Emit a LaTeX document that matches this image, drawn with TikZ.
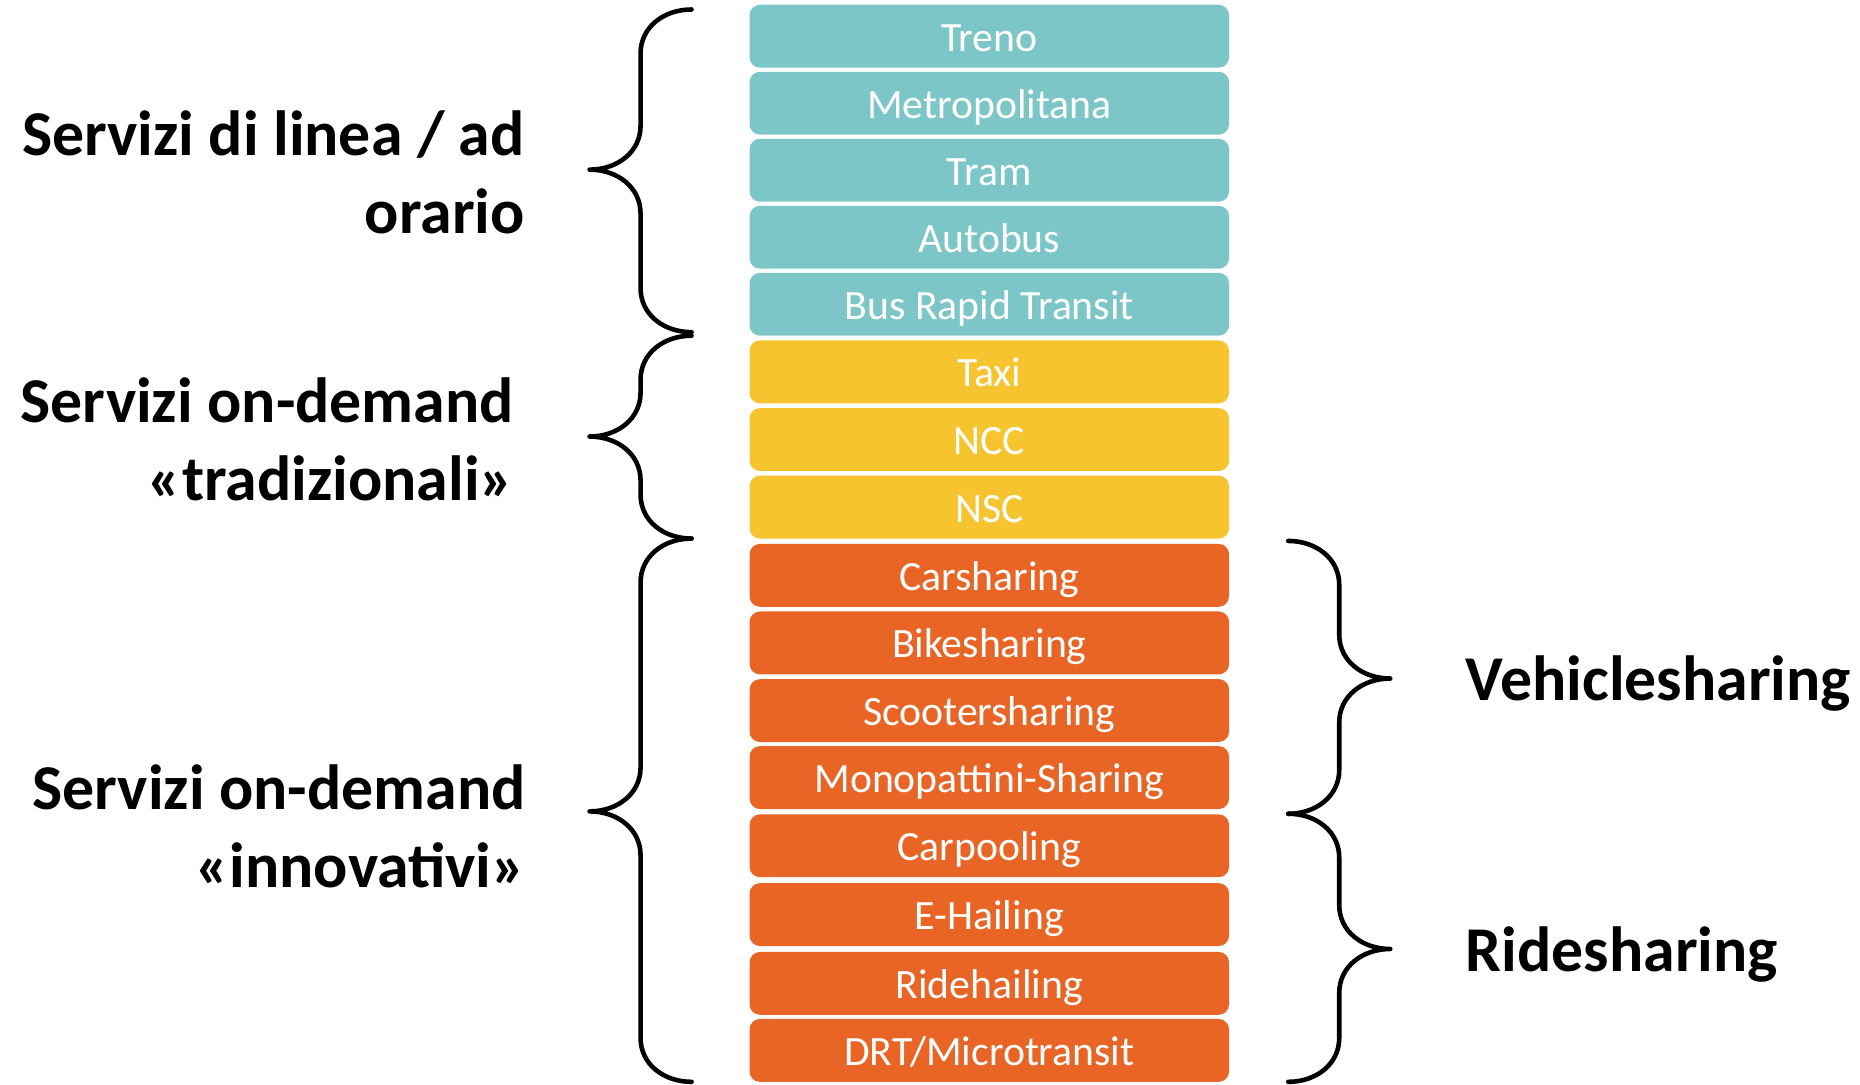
\documentclass[tikz,border=0pt]{standalone}
\usepackage{fontspec}
\setmainfont{Carlito}
\usetikzlibrary{
		calc,
		positioning
	}
\definecolor{lineblue}{HTML}{7DC6C7}
\definecolor{tradyellow}{HTML}{F6C42E}
\definecolor{innorange}{HTML}{E96525}
\tikzset{
		box/.style={rectangle,rounded corners=2.5pt,minimum width=4.04cm,minimum height=0.53cm,inner sep=0pt,text height=9pt,text depth=1.8pt,text=white,font=\fontsize{10}{12}\selectfont},
		brace/.style={line width=1.1pt,line cap=round,line join=round},
		group/.style={font=\fontsize{15.3}{18.7}\selectfont\bfseries,align=right,inner sep=0pt}
	}
% curly bracket: x of ends, depth (signed), top, tip, bottom, name of tip
\newcommand{\curlybrace}[6]{%
  \draw[brace] (#1,#3) .. controls ({#1-0.55*(#2)},#3) and ({#1-(#2)},{#3+15}) .. ({#1-(#2)},{#3+37})
    -- ({#1-(#2)},{#4-37}) .. controls ({#1-(#2)},{#4-15}) and ({#1-1.45*(#2)},#4) .. ({#1-2*(#2)},#4)
    .. controls ({#1-1.45*(#2)},#4) and ({#1-(#2)},{#4+15}) .. ({#1-(#2)},{#4+37})
    -- ({#1-(#2)},{#5-37}) .. controls ({#1-(#2)},{#5-15}) and ({#1-0.55*(#2)},#5) .. (#1,#5);
  \coordinate (#6) at ({#1-2*(#2)},#4);
}
\begin{document}
\begin{tikzpicture}[x=0.01cm,y=-0.01cm]
          \useasboundingbox (0,0) rectangle (1568,914);

          \foreach \txt/\col/\y [count=\i] in {Treno/lineblue/30.5, Metropolitana/lineblue/87, Tram/lineblue/143.5,
              Autobus/lineblue/200, Bus Rapid Transit/lineblue/256.5,
              Taxi/tradyellow/313.5, NCC/tradyellow/370.5, NSC/tradyellow/427.5,
              Carsharing/innorange/485, Bikesharing/innorange/542, Scootersharing/innorange/599,
              Monopattini-Sharing/innorange/655.5, Carpooling/innorange/713, E-Hailing/innorange/771,
              Ridehailing/innorange/829, {DRT/Microtransit}/innorange/885.5}
            \node[box,fill=\col] (b\i) at (834,\y) {\txt};

          \curlybrace{583}{43}{8}{143}{280}{tipa}
          \curlybrace{583}{43}{283}{368}{454}{tipb}
          \curlybrace{583}{43}{454}{684}{912}{tipc}
          \curlybrace{1086}{-43}{456}{572}{686}{tipd}
          \curlybrace{1086}{-43}{686}{800}{912}{tipe}

          \node[group,left=0.54cm of tipa,yshift=-0.02cm] (linea) {Servizi di linea / ad\\orario};
          \node[group,left=0.63cm of tipb,yshift=-0.02cm] (tradiz) {Servizi on-demand\\«tradizionali»};
          \node[group,left=0.53cm of tipc,yshift=-0.13cm] (innov) {Servizi on-demand\\«innovativi»};
          \node[group,right=0.63cm of tipd,yshift=-0.04cm] (vehicle) {Vehiclesharing};
          \node[group,right=0.63cm of tipe,yshift=-0.05cm] (ride) {Ridesharing};

\end{tikzpicture}
\end{document}
